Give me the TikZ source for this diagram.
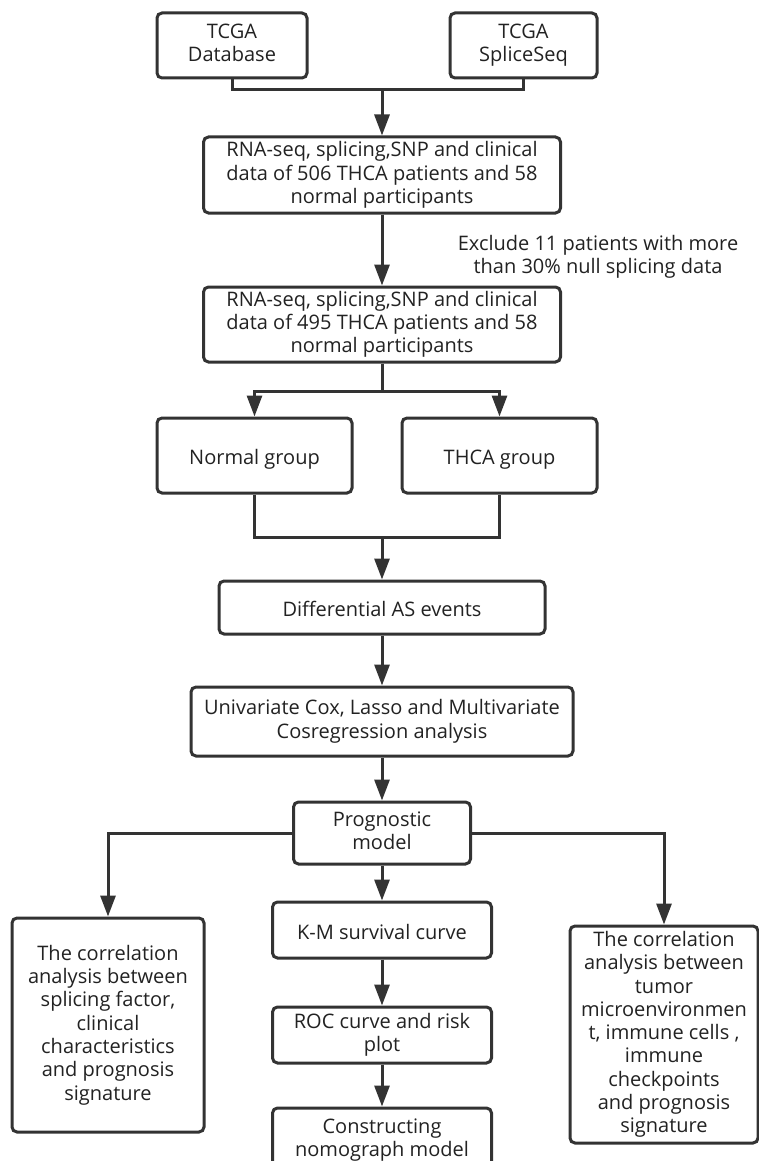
\documentclass[tikz,border=0pt]{standalone}
\usepackage{fontspec}
\setmainfont{Open Sans}
\usetikzlibrary{arrows.meta}
\definecolor{linec}{HTML}{333333}
\definecolor{textc}{HTML}{222222}
\begin{document}
\begin{tikzpicture}[x=1pt,y=-1pt,
  box/.style={draw=linec, line width=3pt, rounded corners=5pt, align=center,
    inner sep=1pt, fill=white, text=textc, font=\fontsize{20}{23.3}\selectfont,
    execute at begin node={\rule{0pt}{23pt}},
    execute at end node={\rule[-5pt]{0pt}{5pt}}},
  conn/.style={draw=linec, line width=3pt},
  arr/.style={conn, -{Triangle[length=21pt,width=15pt]}},
  plain/.style={align=center, text=textc, font=\fontsize{20}{23.3}\selectfont}]
\useasboundingbox (0,0) rectangle (759,1161);
\clip (0,0) rectangle (759,1161);
\fill[white] (0,0) rectangle (759,1161);
% nodes
\node[box, minimum width=150, minimum height=65] (db) at (232,45.5) {TCGA\\Database};
\node[box, minimum width=147, minimum height=65] (ss) at (523.5,45.5) {TCGA\\SpliceSeq};
\node[box, minimum width=357, minimum height=76] (b1) at (382,175) {RNA-seq, splicing,SNP and clinical\\data of 506 THCA patients and 58\\normal participants};
\node[plain] (ex) at (598,257) {Exclude 11 patients with more\\than 30\% null splicing data};
\node[box, minimum width=357, minimum height=75] (b2) at (382,324.5) {RNA-seq, splicing,SNP and clinical\\data of 495 THCA patients and 58\\normal participants};
\node[box, minimum width=195, minimum height=75] (nor) at (254.5,455.5) {Normal group};
\node[box, minimum width=195, minimum height=75] (thca) at (499.5,455.5) {THCA group};
\node[box, minimum width=326, minimum height=53] (diff) at (382,607.5) {Differential AS events};
\node[box, minimum width=382, minimum height=69] (uni) at (382,721.5) {Univariate Cox, Lasso and Multivariate\\Cosregression analysis};
\node[box, minimum width=177, minimum height=62] (prog) at (382,833) {Prognostic\\model};
\node[box, minimum width=219, minimum height=56] (km) at (382,930) {K-M survival curve};
\node[box, minimum width=219, minimum height=56] (roc) at (382,1035) {ROC curve and risk\\plot};
\node[box, minimum width=219, minimum height=64] (cons) at (382,1140) {Constructing\\nomograph model};
\node[box, minimum width=192, minimum height=214] (lft) at (108,1025) {The correlation\\analysis between\\splicing factor,\\clinical\\characteristics\\and prognosis\\signature};
\node[box, minimum width=188, minimum height=217] (rgt) at (664,1034.5) {The correlation\\analysis between\\tumor\\microenvironmen\\t, immune cells ,\\immune\\checkpoints\\and prognosis\\signature};
% junctions
\coordinate (j1) at (382,90);
\coordinate (j2) at (382,391);
\coordinate (j3) at (382,537);
% connectors
\draw[conn] (db.south) |- (j1) -| (ss.south);
\draw[arr] (j1) -- (b1.north);
\draw[arr] (b1.south) -- (b2.north);
\draw[conn] (b2.south) -- (j2);
\draw[arr] (j2) -| (nor.north);
\draw[arr] (j2) -| (thca.north);
\draw[conn] (nor.south) |- (j3) -| (thca.south);
\draw[arr] (j3) -- (diff.north);
\draw[arr] (diff.south) -- (uni.north);
\draw[arr] (uni.south) -- (prog.north);
\draw[arr] (prog.west) -| (lft.north);
\draw[arr] (prog.east) -| (rgt.north);
\draw[arr] (prog.south) -- (km.north);
\draw[arr] (km.south) -- (roc.north);
\draw[arr] (roc.south) -- (cons.north);
\end{tikzpicture}
\end{document}
